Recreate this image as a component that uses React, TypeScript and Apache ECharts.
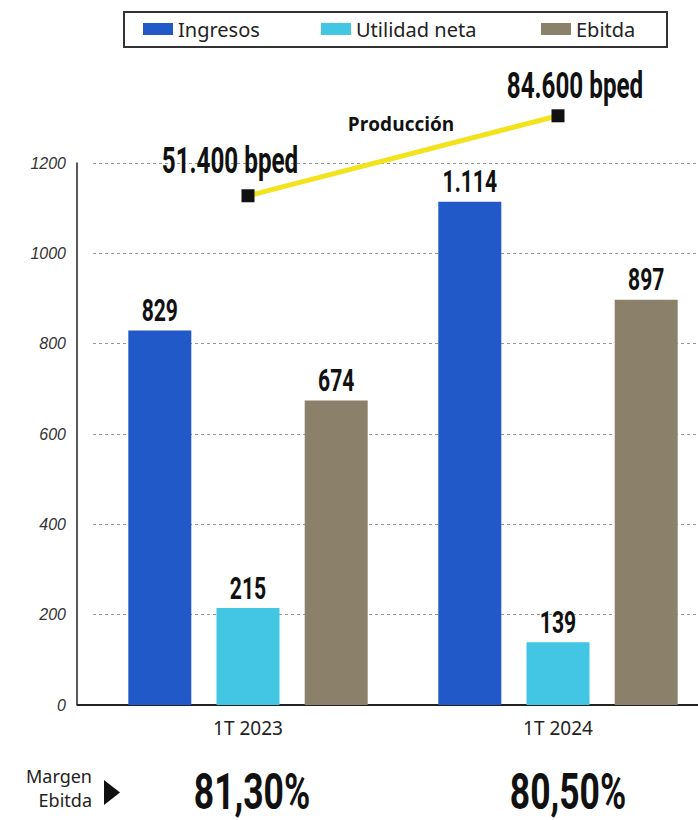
import React, { useEffect, useRef } from "react";
import * as echarts from "echarts";

const categories = ["1T 2023", "1T 2024"];
const ingresos = [829, 1114];
const utilidadNeta = [215, 139];
const ebitda = [674, 897];
const produccion = [51400, 84600];
const produccionLabels = ["51.400 bped", "84.600 bped"];
const margenEbitda = ["81,30%", "80,50%"];
const seriesNames = ["Ingresos", "Utilidad neta", "Ebitda"];
const barColors = ["#2159c9", "#42c6e3", "#8b806a"];

// styling / layout constants
const COND = 'Roboto, "Liberation Sans", sans-serif';
const SANS = '"Noto Sans", "Open Sans", sans-serif';
const BAR_W = 63;
const BAR_PITCH = 88.2;
const prodLabelOffsets = [[-18, -35], [17, -30]];
const margenOffsetsX = [4, 10];
const legendLefts = [143, 321, 541];

const fmt = (v: number) => v.toString().replace(/\B(?=(\d{3})+(?!\d))/g, ".");

export default function App() {
  const ref = useRef<HTMLDivElement>(null);
  useEffect(() => {
    document.body.style.margin = "0";
    const chart = echarts.init(ref.current!, null, { renderer: "svg" });

    const condText = (text: string, x: number, y: number, size: number, sx: number) => ({
      type: "text",
      x,
      y,
      scaleX: sx,
      style: {
        text,
        fontFamily: COND,
        fontWeight: "bold",
        fontSize: size,
        fill: "#111",
        align: "center",
        verticalAlign: "middle",
        textAlign: "center",
        textVerticalAlign: "middle",
      },
    });

    const barSeries = [ingresos, utilidadNeta, ebitda].map((d, k) => ({
      name: seriesNames[k],
      type: "bar",
      data: d,
      barWidth: BAR_W,
      barGap: "40%",
      itemStyle: { color: barColors[k] },
    }));

    const barLabelSeries = [ingresos, utilidadNeta, ebitda].map((d, k) => ({
      type: "custom",
      silent: true,
      clip: false,
      z: 20,
      data: d.map((v, i) => [i, v]),
      renderItem: (params: any, api: any) => {
        const p = api.coord([api.value(0), api.value(1)]);
        return condText(fmt(api.value(1)), p[0] + (k - 1) * BAR_PITCH, p[1] - 20, 32, 0.66);
      },
    }));

    chart.setOption({
      animation: false,
      backgroundColor: "#fff",
      legend: seriesNames.map((n, i) => ({
        data: [n],
        left: legendLefts[i],
        top: 19,
        padding: 0,
        icon: "rect",
        itemWidth: 30,
        itemHeight: 12,
        itemGap: 6,
        selectedMode: false,
        textStyle: { fontFamily: SANS, fontSize: 20, color: "#222", padding: [0, 0, 0, 0] },
      })),
      grid: { left: 93, width: 620, top: 163, height: 542, containLabel: false, outerBoundsMode: "none" },
      xAxis: {
        type: "category",
        data: categories,
        axisLine: { show: true, lineStyle: { color: "#222", width: 2 } },
        axisTick: { show: false },
        axisLabel: { fontFamily: SANS, fontSize: 19, color: "#222", margin: 13 },
      },
      yAxis: [
        {
          type: "value",
          min: 0,
          max: 1200,
          interval: 200,
          offset: 16,
          axisLine: { show: true, lineStyle: { color: "#222", width: 1.5 } },
          axisTick: { show: false },
          axisLabel: {
            fontFamily: '"Liberation Sans", Arial, sans-serif',
            fontStyle: "italic",
            fontSize: 16,
            color: "#333",
            margin: 11,
            formatter: (v: number) => String(v),
          },
          splitLine: { show: true, lineStyle: { color: "#999", type: [3, 3], width: 1 } },
        },
        { type: "value", show: false, min: -160000, max: 65000, splitLine: { show: false } },
      ],
      graphic: [
        { type: "rect", shape: { x: 124, y: 12, width: 543, height: 35 }, style: { fill: "none", stroke: "#333", lineWidth: 2 } },
        { type: "line", shape: { x1: 77, y1: 705, x2: 93, y2: 705 }, style: { stroke: "#222", lineWidth: 2 } },
        {
          type: "text",
          x: 401,
          y: 124,
          style: { text: "Producción", fontFamily: '"Open Sans", sans-serif', fontWeight: "bold", fontSize: 19, fill: "#111", textAlign: "center", textVerticalAlign: "middle" },
        },
        {
          type: "text",
          x: 92,
          y: 776,
          style: { text: "Margen", fontFamily: SANS, fontSize: 18, fill: "#222", textAlign: "right", textVerticalAlign: "middle" },
        },
        {
          type: "text",
          x: 92,
          y: 800,
          style: { text: "Ebitda", fontFamily: SANS, fontSize: 18, fill: "#222", textAlign: "right", textVerticalAlign: "middle" },
        },
        { type: "polygon", shape: { points: [[104, 780], [104, 805], [120, 792.5]] }, style: { fill: "#111" } },
      ],
      series: [
        ...barSeries,
        ...barLabelSeries,
        {
          name: "Producción",
          type: "line",
          yAxisIndex: 1,
          clip: false,
          z: 10,
          symbol: "rect",
          symbolSize: 13,
          itemStyle: { color: "#111" },
          lineStyle: { color: "#f2e31c", width: 5 },
          data: produccion,
        },
        {
          type: "custom",
          yAxisIndex: 1,
          silent: true,
          clip: false,
          z: 20,
          data: produccion.map((v, i) => [i, v]),
          renderItem: (params: any, api: any) => {
            const p = api.coord([api.value(0), api.value(1)]);
            const o = prodLabelOffsets[params.dataIndex];
            return condText(produccionLabels[params.dataIndex], p[0] + o[0], p[1] + o[1], 37, 0.655);
          },
        },
        {
          type: "custom",
          silent: true,
          clip: false,
          z: 20,
          data: margenEbitda.map((m, i) => [i, 0]),
          renderItem: (params: any, api: any) => {
            const p = api.coord([api.value(0), 0]);
            return condText(margenEbitda[params.dataIndex], p[0] + margenOffsetsX[params.dataIndex], p[1] + 87, 50, 0.71);
          },
        },
      ],
    });
    return () => chart.dispose();
  }, []);
  return <div ref={ref} style={{ width: 698, height: 820 }} />;
}
